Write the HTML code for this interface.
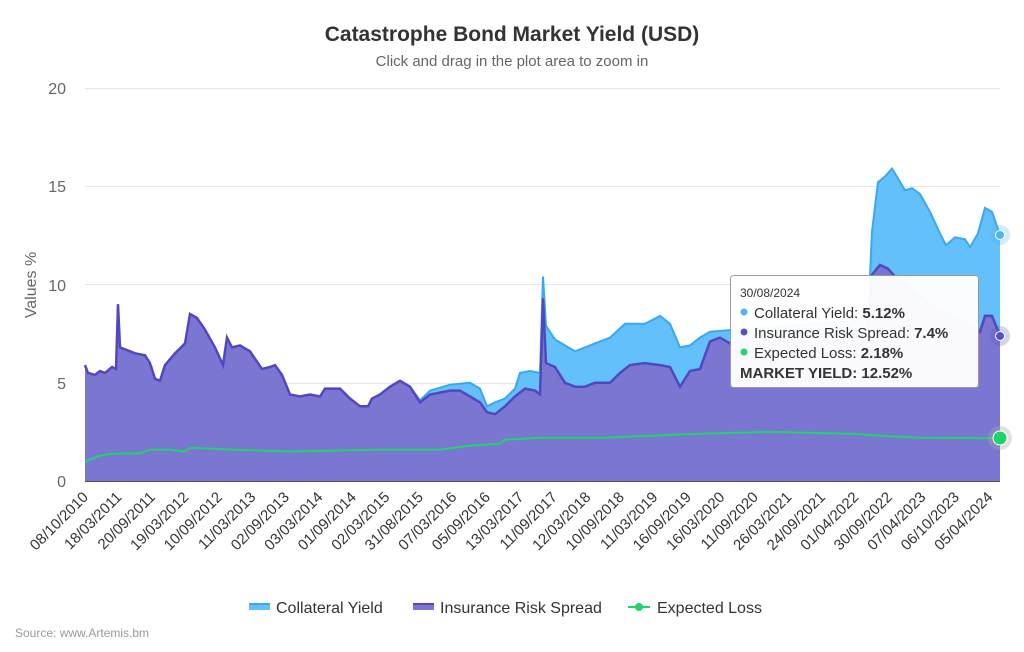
<!DOCTYPE html><html><head><style>body{margin:0;background:#fff}svg text{font-family:"Liberation Sans",sans-serif}</style></head><body>
<svg width="1024" height="647" viewBox="0 0 1024 647" xmlns="http://www.w3.org/2000/svg">
<text x="512" y="41" text-anchor="middle" font-size="21" font-weight="bold" fill="#333">Catastrophe Bond Market Yield (USD)</text>
<text x="512" y="66" text-anchor="middle" font-size="15" fill="#666">Click and drag in the plot area to zoom in</text>
<g stroke="#e6e6e6" stroke-width="1"><line x1="85" x2="1000" y1="88.5" y2="88.5"/><line x1="85" x2="1000" y1="186.5" y2="186.5"/><line x1="85" x2="1000" y1="284.5" y2="284.5"/><line x1="85" x2="1000" y1="383.5" y2="383.5"/></g>
<g font-size="16" fill="#666" text-anchor="end"><text x="66" y="94">20</text><text x="66" y="192">15</text><text x="66" y="291">10</text><text x="66" y="389">5</text><text x="66" y="487">0</text></g>
<text transform="translate(36,285) rotate(-90)" text-anchor="middle" font-size="16" fill="#666">Values %</text>

<polygon fill="#63c0fb" points="85,365.1 88,372.9 95,374.9 100,371.0 105,372.9 112,367.0 116,369.0 118,304.2 120,347.4 125,349.3 135,353.3 145,355.2 150,363.1 155,378.8 160,380.8 165,365.1 175,353.3 185,343.4 190,314.0 197,317.9 205,329.7 215,347.4 223,365.1 227,337.6 232,347.4 240,345.4 250,351.3 258,363.1 262,369.0 270,367.0 275,365.1 282,374.9 290,394.5 300,396.5 310,394.5 320,396.5 325,388.6 340,388.6 350,398.5 360,406.3 368,406.3 372,398.5 380,394.5 390,386.7 400,380.8 410,386.7 420,400.4 430,390.6 450,384.7 470,382.8 480,388.6 487,406.3 495,402.4 505,398.5 515,388.6 520,372.9 530,371.0 540,372.9 543,276.6 546,325.8 555,339.5 565,345.4 575,351.3 585,347.4 595,343.4 610,337.6 625,323.8 645,323.8 660,315.9 670,323.8 680,347.4 690,345.4 700,337.6 710,331.7 760,327.7 820,323.8 868,319.9 872,231.4 878,182.3 885,176.4 892,168.6 898,178.4 905,190.2 912,188.2 920,194.1 930,211.8 940,233.4 946,245.2 955,237.3 965,239.3 970,247.2 978,233.4 985,207.9 992,211.8 1000,235.0 1000,481 85,481"/>
<polyline fill="none" stroke="#3aa8f0" stroke-width="2" points="400,380.8 410,386.7 420,400.4 430,390.6 450,384.7 470,382.8 480,388.6 487,406.3 495,402.4 505,398.5 515,388.6 520,372.9 530,371.0 540,372.9 543,276.6 546,325.8 555,339.5 565,345.4 575,351.3 585,347.4 595,343.4 610,337.6 625,323.8 645,323.8 660,315.9 670,323.8 680,347.4 690,345.4 700,337.6 710,331.7 760,327.7 820,323.8 868,319.9 872,231.4 878,182.3 885,176.4 892,168.6 898,178.4 905,190.2 912,188.2 920,194.1 930,211.8 940,233.4 946,245.2 955,237.3 965,239.3 970,247.2 978,233.4 985,207.9 992,211.8 1000,235.0"/>
<polygon fill="#7b76d1" points="85,365.1 88,372.9 95,374.9 100,371.0 105,372.9 112,367.0 116,369.0 118,304.2 120,347.4 125,349.3 135,353.3 145,355.2 150,363.1 155,378.8 160,380.8 165,365.1 175,353.3 185,343.4 190,314.0 197,317.9 205,329.7 215,347.4 223,365.1 227,337.6 232,347.4 240,345.4 250,351.3 258,363.1 262,369.0 270,367.0 275,365.1 282,374.9 290,394.5 300,396.5 310,394.5 320,396.5 325,388.6 340,388.6 350,398.5 360,406.3 368,406.3 372,398.5 380,394.5 390,386.7 400,380.8 410,386.7 420,402.4 430,394.5 440,392.6 450,390.6 460,390.6 470,396.5 480,402.4 487,412.2 495,414.2 505,406.3 515,396.5 525,388.6 535,390.6 540,394.5 543,298.3 546,363.1 555,367.0 565,382.8 575,386.7 585,386.7 595,382.8 610,382.8 620,372.9 630,365.1 645,363.1 660,365.1 670,367.0 680,386.7 690,371.0 700,369.0 710,341.5 720,337.6 730,343.4 800,335.6 868,331.7 872,274.7 880,264.9 888,268.8 895,276.6 930,304.2 975,327.7 980,331.7 985,315.9 992,315.9 1000,335.6 1000,481 85,481"/>
<polyline fill="none" stroke="#5148c0" stroke-width="2.5" points="85,365.1 88,372.9 95,374.9 100,371.0 105,372.9 112,367.0 116,369.0 118,304.2 120,347.4 125,349.3 135,353.3 145,355.2 150,363.1 155,378.8 160,380.8 165,365.1 175,353.3 185,343.4 190,314.0 197,317.9 205,329.7 215,347.4 223,365.1 227,337.6 232,347.4 240,345.4 250,351.3 258,363.1 262,369.0 270,367.0 275,365.1 282,374.9 290,394.5 300,396.5 310,394.5 320,396.5 325,388.6 340,388.6 350,398.5 360,406.3 368,406.3 372,398.5 380,394.5 390,386.7 400,380.8 410,386.7 420,402.4 430,394.5 440,392.6 450,390.6 460,390.6 470,396.5 480,402.4 487,412.2 495,414.2 505,406.3 515,396.5 525,388.6 535,390.6 540,394.5 543,298.3 546,363.1 555,367.0 565,382.8 575,386.7 585,386.7 595,382.8 610,382.8 620,372.9 630,365.1 645,363.1 660,365.1 670,367.0 680,386.7 690,371.0 700,369.0 710,341.5 720,337.6 730,343.4 800,335.6 868,331.7 872,274.7 880,264.9 888,268.8 895,276.6 930,304.2 975,327.7 980,331.7 985,315.9 992,315.9 1000,335.6"/>
<polyline fill="none" stroke="#1fd469" stroke-width="2" points="85,461.4 100,455.5 115,453.5 140,453.5 150,449.6 170,449.6 185,451.5 190,447.6 230,449.6 290,451.5 380,449.6 440,449.6 470,445.6 500,443.7 505,439.7 540,437.8 600,437.8 700,433.8 770,431.9 850,433.8 880,435.8 920,437.8 1000,438.2"/>
<line x1="85" x2="1000" y1="481.5" y2="481.5" stroke="#555"/>

<g font-size="15" fill="#333" text-anchor="end">
<text transform="translate(89,498) rotate(-45)">08/10/2010</text>
<text transform="translate(122.5,498) rotate(-45)">18/03/2011</text>
<text transform="translate(156,498) rotate(-45)">20/09/2011</text>
<text transform="translate(189.5,498) rotate(-45)">19/03/2012</text>
<text transform="translate(223,498) rotate(-45)">10/09/2012</text>
<text transform="translate(256.5,498) rotate(-45)">11/03/2013</text>
<text transform="translate(290,498) rotate(-45)">02/09/2013</text>
<text transform="translate(323.5,498) rotate(-45)">03/03/2014</text>
<text transform="translate(357,498) rotate(-45)">01/09/2014</text>
<text transform="translate(390.5,498) rotate(-45)">02/03/2015</text>
<text transform="translate(424,498) rotate(-45)">31/08/2015</text>
<text transform="translate(457.5,498) rotate(-45)">07/03/2016</text>
<text transform="translate(491,498) rotate(-45)">05/09/2016</text>
<text transform="translate(524.5,498) rotate(-45)">13/03/2017</text>
<text transform="translate(558,498) rotate(-45)">11/09/2017</text>
<text transform="translate(591.5,498) rotate(-45)">12/03/2018</text>
<text transform="translate(625,498) rotate(-45)">10/09/2018</text>
<text transform="translate(658.5,498) rotate(-45)">11/03/2019</text>
<text transform="translate(692,498) rotate(-45)">16/09/2019</text>
<text transform="translate(725.5,498) rotate(-45)">16/03/2020</text>
<text transform="translate(759,498) rotate(-45)">11/09/2020</text>
<text transform="translate(792.5,498) rotate(-45)">26/03/2021</text>
<text transform="translate(826,498) rotate(-45)">24/09/2021</text>
<text transform="translate(859.5,498) rotate(-45)">01/04/2022</text>
<text transform="translate(893,498) rotate(-45)">30/09/2022</text>
<text transform="translate(926.5,498) rotate(-45)">07/04/2023</text>
<text transform="translate(960,498) rotate(-45)">06/10/2023</text>
<text transform="translate(993.5,498) rotate(-45)">05/04/2024</text>
</g>

<g transform="translate(730,275)"><rect x="0.5" y="0.5" width="248" height="112" rx="3" fill="#fff" stroke="#999" opacity="0.97"/>
<text x="10" y="22" font-size="12" fill="#333">30/08/2024</text>
<circle cx="14" cy="37" r="3.5" fill="#4db3f5"/><text x="24" y="43" font-size="15" fill="#333">Collateral Yield: <tspan font-weight="bold">5.12%</tspan></text>
<circle cx="14" cy="57" r="3.5" fill="#5a4fc4"/><text x="24" y="63" font-size="15" fill="#333">Insurance Risk Spread: <tspan font-weight="bold">7.4%</tspan></text>
<circle cx="14" cy="77" r="3.5" fill="#1fd469"/><text x="24" y="83" font-size="15" fill="#333">Expected Loss: <tspan font-weight="bold">2.18%</tspan></text>
<text x="10" y="103" font-size="15" font-weight="bold" fill="#333">MARKET YIELD: 12.52%</text></g>
<circle cx="1000" cy="235" r="10" fill="#4db3f5" opacity="0.25"/><circle cx="1000" cy="235" r="4.5" fill="#4db3f5" stroke="#fff"/>
<circle cx="1000" cy="336" r="10" fill="#5a4fc4" opacity="0.25"/><circle cx="1000" cy="336" r="4.5" fill="#5a4fc4" stroke="#fff"/>
<circle cx="1000" cy="438" r="12" fill="#aaa" opacity="0.35"/><circle cx="1000" cy="438" r="7" fill="#1fd469" stroke="#fff"/>
<g font-size="16" fill="#333">
<rect x="249" y="604" width="21" height="6" fill="#63c0fb"/><rect x="249" y="603" width="21" height="2" fill="#3aa8f0"/><text x="276" y="613">Collateral Yield</text>
<rect x="413" y="604" width="21" height="6" fill="#7b76d1"/><rect x="413" y="603" width="21" height="2" fill="#5148c0"/><text x="440" y="613">Insurance Risk Spread</text>
<line x1="628" x2="650" y1="607" y2="607" stroke="#1fd469" stroke-width="2"/><circle cx="639" cy="607" r="4" fill="#1fd469"/><text x="657" y="613">Expected Loss</text>
</g>
<text x="15" y="637" font-size="12" fill="#999">Source: www.Artemis.bm</text>
</svg></body></html>
